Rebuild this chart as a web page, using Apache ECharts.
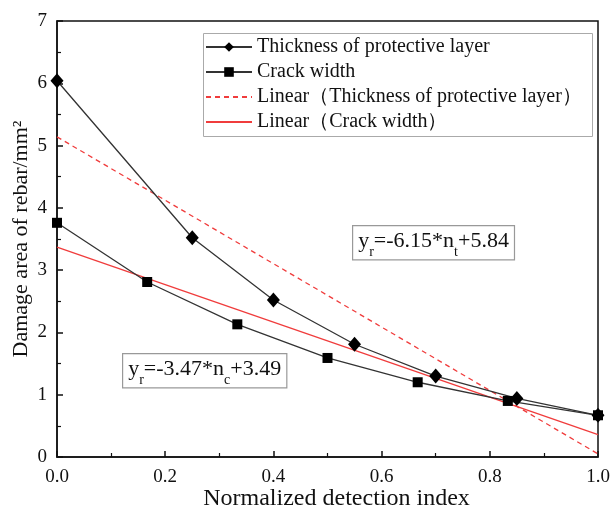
<!DOCTYPE html>
<html><head><meta charset="utf-8">
<script src="https://cdn.jsdelivr.net/npm/echarts@6/dist/echarts.min.js"></script>
<style>html,body{margin:0;padding:0;background:#fff}#c{width:613px;height:512px}</style>
</head><body><div id="c"></div>
<script>
var thicknessX = [0, 0.25, 0.4, 0.55, 0.7, 0.85, 1.0];
var thicknessY = [6.04, 3.52, 2.52, 1.81, 1.30, 0.94, 0.67];
var crackX = [0, 0.1667, 0.3333, 0.5, 0.6667, 0.8333, 1.0];
var crackY = [3.76, 2.81, 2.13, 1.59, 1.20, 0.90, 0.67];
var fitThickX = [0, 1];
var fitThickY = [5.14, 0.05];
var fitCrackX = [0, 1];
var fitCrackY = [3.37, 0.36];
var seriesNames = ['Thickness of protective layer', 'Crack width', 'Linear\uFF08Thickness of protective layer\uFF09', 'Linear\uFF08Crack width\uFF09'];
var eqThick = 'y{sub|r}=-6.15*n{sub|t}+5.84';
var eqCrack = 'y{sub|r}=-3.47*n{sub|c}+3.49';

function pairs(xs, ys){ return xs.map(function(x,i){return [x, ys[i]];}); }
var FONT = '"Liberation Serif", "Times New Roman", serif';
var chart = echarts.init(document.getElementById('c'), null, {renderer:'canvas'});
var eqRich = {
  sub: {fontSize: 14, fontFamily: FONT, verticalAlign: 'bottom', padding: [0,0,-7,0], fill: '#111'}
};
var hiddenSym = {color: 'transparent', borderWidth: 0, opacity: 0};
chart.setOption({
  animation: false,
  backgroundColor: '#fff',
  textStyle: {fontFamily: FONT},
  grid: {left: 57, right: 15, top: 21, bottom: 55, containLabel: false, outerBoundsMode: 'none',
         show: true, borderColor: '#111', borderWidth: 1.5, backgroundColor: 'transparent'},
  legend: {
    orient: 'vertical', left: 203, top: 34,
    padding: [3, 4, 3, 2], itemGap: 5,
    itemWidth: 46, itemHeight: 12, itemTextGap: 6,
    textStyle: {fontFamily: FONT, fontSize: 20, color: '#111'},
    data: [
      {name: seriesNames[0]},
      {name: seriesNames[1]},
      {name: seriesNames[2], itemStyle: hiddenSym},
      {name: seriesNames[3], itemStyle: hiddenSym}
    ]
  },
  xAxis: {
    type: 'value', min: 0, max: 1, interval: 0.2,
    name: 'Normalized detection index', nameLocation: 'middle', nameGap: 30, nameMoveOverlap: false,
    nameTextStyle: {fontFamily: FONT, fontSize: 24, color: '#111', padding: [0, 0, 0, 18]},
    axisLine: {lineStyle: {color: '#111', width: 1.5}},
    axisTick: {inside: true, length: 6, lineStyle: {color: '#111', width: 1.5}},
    minorTick: {show: true, splitNumber: 2, length: 4, lineStyle: {color: '#111', width: 1.2}},
    splitLine: {show: false},
    axisLabel: {fontFamily: FONT, fontSize: 19, color: '#111', margin: 11, formatter: function(v){return v.toFixed(1);}}
  },
  yAxis: {
    type: 'value', min: 0, max: 7, interval: 1,
    name: 'Damage area of rebar/mm\u00B2', nameLocation: 'middle', nameGap: 25, nameRotate: 90, nameMoveOverlap: false,
    nameTextStyle: {fontFamily: FONT, fontSize: 22, color: '#111'},
    axisLine: {lineStyle: {color: '#111', width: 1.5}},
    axisTick: {inside: true, length: 6, lineStyle: {color: '#111', width: 1.5}},
    minorTick: {show: true, splitNumber: 2, length: 4, lineStyle: {color: '#111', width: 1.2}},
    splitLine: {show: false},
    axisLabel: {fontFamily: FONT, fontSize: 19, color: '#111', margin: 10}
  },
  series: [
    {name: seriesNames[2], type: 'line', data: pairs(fitThickX, fitThickY), symbol: 'none', z: 2,
     lineStyle: {color: '#f03c3c', width: 1.3, type: [5,4]}, itemStyle: {color: '#f03c3c'}},
    {name: seriesNames[3], type: 'line', data: pairs(fitCrackX, fitCrackY), symbol: 'none', z: 2,
     lineStyle: {color: '#f03c3c', width: 1.3}, itemStyle: {color: '#f03c3c'}},
    {name: seriesNames[0], type: 'line', data: pairs(thicknessX, thicknessY), symbol: 'diamond', symbolSize: [13,15], z: 3,
     lineStyle: {color: '#333', width: 1.3}, itemStyle: {color: '#000'}},
    {name: seriesNames[1], type: 'line', data: pairs(crackX, crackY), symbol: 'rect', symbolSize: 10, z: 3,
     lineStyle: {color: '#333', width: 1.3}, itemStyle: {color: '#000'}}
  ],
  graphic: [
    {type: 'rect', left: 203, top: 33, z: 1, silent: true,
     shape: {width: 389, height: 103}, style: {fill: 'transparent', stroke: '#aaa', lineWidth: 1}},
    {type: 'text', left: 352, top: 225, z: 10,
     style: {text: eqThick, rich: eqRich, font: '22px ' + FONT, fill: '#111', borderColor: '#999', borderWidth: 1.2, padding: [4,5,7,5], backgroundColor: '#fff'}},
    {type: 'text', left: 122, top: 353, z: 10,
     style: {text: eqCrack, rich: eqRich, font: '22px ' + FONT, fill: '#111', borderColor: '#999', borderWidth: 1.2, padding: [4,5,7,5], backgroundColor: '#fff'}}
  ]
});
</script></body></html>
